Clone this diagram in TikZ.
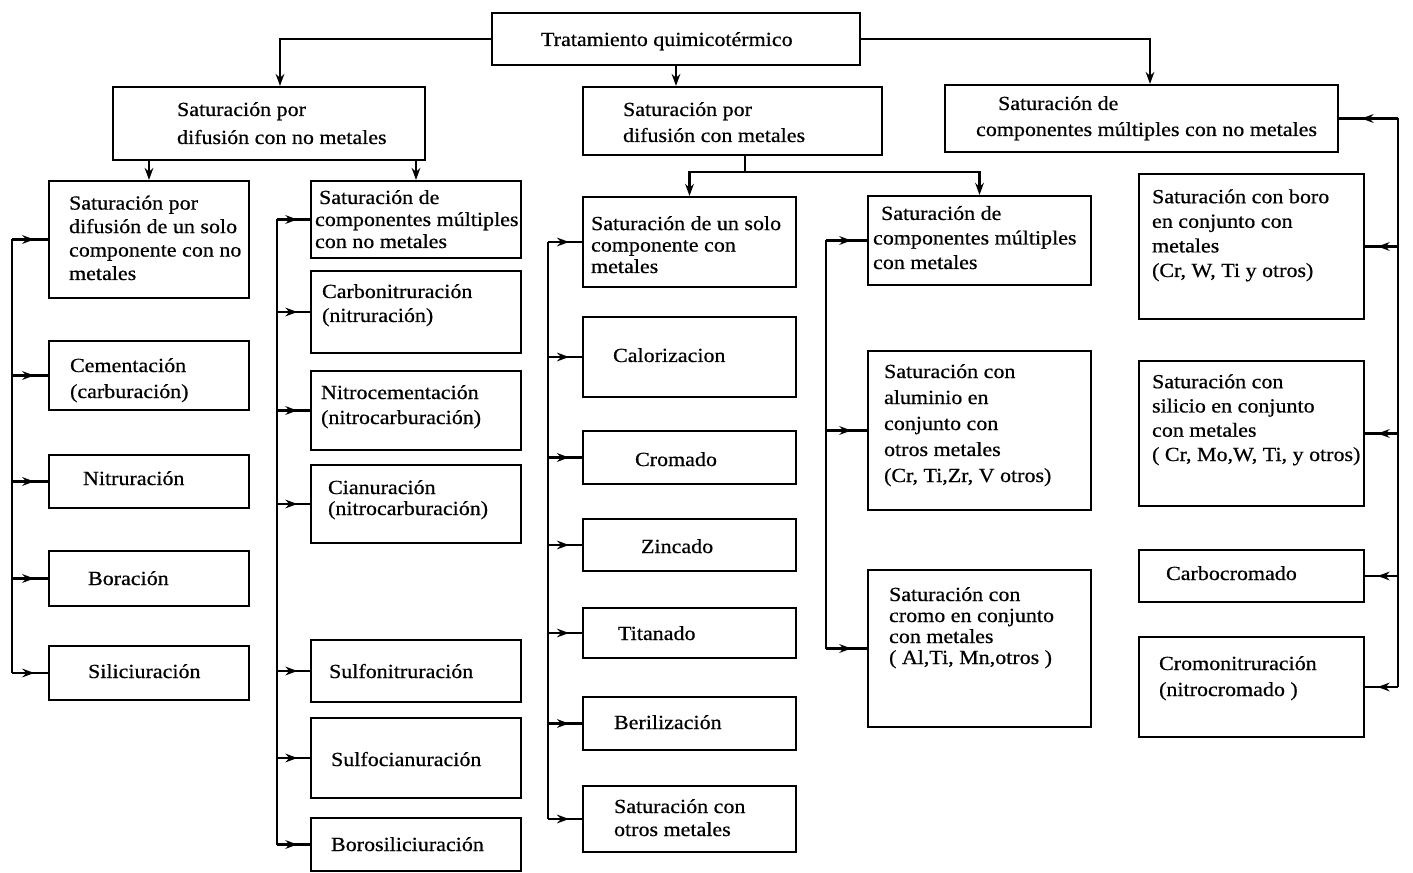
\documentclass[tikz,border=0pt]{standalone}
\usepackage{fontspec}
\setmainfont{Liberation Serif}[FakeStretch=1.1,FakeBold=0.6]
\usetikzlibrary{arrows.meta,fit,decorations.markings}

\tikzset{every picture/.style={line width=1.6pt}}
\tikzset{
  box/.style={draw, inner sep=0pt, fit={#1}},
  txt/.style={anchor=base west, inner sep=0pt, align=left, font=\fontsize{15}{#1}\selectfont},
  txt/.default=17.6,
  feed/.style={-{Stealth[length=9pt,width=6.5pt]}},
  branch/.style={postaction={decorate}, decoration={markings, mark=at position 0.62 with {\arrow{Stealth[length=9pt,width=6.5pt]}}}}
}

\begin{document}
\begin{tikzpicture}[x=0.75pt,y=0.75pt,yscale=-1,xscale=1]
\useasboundingbox[fill=white] (0,0) rectangle (1413,873);

% Main box
\node[box={(492,13) (860,65)}] (t0) {};
\node[txt] (t0t) at (540,46) {Tratamiento quimicotérmico};

% First level (text nodes sit on their last baseline)
\node[box={(113,87) (425,160)}] (s1) {};
\node[txt=21] (s1t) at (176,144) {Saturación por\\difusión con no metales};
\node[box={(583,87) (882,155)}] (s2) {};
\node[txt=19.5] (s2t) at (622,142) {Saturación por\\difusión con metales};
\node[box={(945,85) (1338,152)}] (s3) {};
\node[txt=19.5] (s3t) at (975,136) {\hspace*{16.5pt}Saturación de\\componentes múltiples con no metales};

% Column a
\node[box={(49,181) (249,298)}] (a1) {};
\node[txt=17.6] (a1t) at (68,280) {Saturación por\\difusión de un solo\\componente con no\\metales};
\node[box={(49,341) (249,410)}] (a2) {};
\node[txt=19.5] (a2t) at (69,398) {Cementación\\(carburación)};
\node[box={(49,455) (249,508)}] (a3) {};
\node[txt] (a3t) at (82,485) {Nitruración};
\node[box={(49,551) (249,606)}] (a4) {};
\node[txt] (a4t) at (87,585) {Boración};
\node[box={(49,646) (249,700)}] (a5) {};
\node[txt] (a5t) at (87,678) {Siliciuración};

% Column b
\node[box={(311,181) (521,258)}] (b1) {};
\node[txt=16.5] (b1t) at (314,248) {\hspace*{3pt}Saturación de\\componentes múltiples\\con no metales};
\node[box={(311,271) (521,353)}] (b2) {};
\node[txt=18] (b2t) at (321,322) {Carbonitruración\\(nitruración)};
\node[box={(311,371) (521,450)}] (b3) {};
\node[txt=18.75] (b3t) at (320,424) {Nitrocementación\\(nitrocarburación)};
\node[box={(311,465) (521,543)}] (b4) {};
\node[txt=15.75] (b4t) at (327,515) {Cianuración\\(nitrocarburación)};
\node[box={(311,640) (521,702)}] (b5) {};
\node[txt] (b5t) at (328,678) {Sulfonitruración};
\node[box={(311,718) (521,798)}] (b6) {};
\node[txt] (b6t) at (330,766) {Sulfocianuración};
\node[box={(311,818) (521,871)}] (b7) {};
\node[txt] (b7t) at (330,851) {Borosiliciuración};

% Column c
\node[box={(583,197) (796,287)}] (c1) {};
\node[txt=16.1] (c1t) at (590,273) {Saturación de un solo\\componente con\\metales};
\node[box={(583,317) (796,397)}] (c2) {};
\node[txt] (c2t) at (612,362) {Calorizacion};
\node[box={(583,431) (796,484)}] (c3) {};
\node[txt] (c3t) at (634,466) {Cromado};
\node[box={(583,519) (796,571)}] (c4) {};
\node[txt] (c4t) at (640,553) {Zincado};
\node[box={(583,608) (796,658)}] (c5) {};
\node[txt] (c5t) at (617,640) {Titanado};
\node[box={(583,697) (796,750)}] (c6) {};
\node[txt] (c6t) at (613,729) {Berilización};
\node[box={(583,786) (796,852)}] (c7) {};
\node[txt=17.25] (c7t) at (613,836) {Saturación con\\otros metales};

% Column d
\node[box={(868,196) (1091,285)}] (d1) {};
\node[txt=18.4] (d1t) at (872,269) {\hspace*{6pt}Saturación de\\componentes múltiples\\con metales};
\node[box={(868,351) (1091,510)}] (d2) {};
\node[txt=19.5] (d2t) at (883,482) {Saturación con\\aluminio en\\conjunto con\\otros metales\\(Cr, Ti,Zr, V otros)};
\node[box={(868,570) (1091,727)}] (d3) {};
\node[txt=15.75] (d3t) at (888,664) {Saturación con\\cromo en conjunto\\con metales\\( Al,Ti, Mn,otros )};

% Column e
\node[box={(1139,174) (1364,319)}] (e1) {};
\node[txt=18.45] (e1t) at (1151,277) {Saturación con boro\\en conjunto con\\metales\\(Cr, W, Ti y otros)};
\node[box={(1139,361) (1364,506)}] (e2) {};
\node[txt=18.2] (e2t) at (1151,461) {Saturación con\\silicio en conjunto\\con metales\\( Cr, Mo,W, Ti, y otros)};
\node[box={(1139,550) (1364,602)}] (e3) {};
\node[txt] (e3t) at (1165,580) {Carbocromado};
\node[box={(1139,637) (1364,737)}] (e4) {};
\node[txt=19.5] (e4t) at (1158,696) {Cromonitruración\\(nitrocromado )};

% Bus positions
\coordinate (ka) at (280,0);
\coordinate (kc) at (1150,0);
\coordinate (kb) at (745,172);
\coordinate (ba) at (12,0);
\coordinate (bb) at (277,0);
\coordinate (bc) at (548,0);
\coordinate (bd) at (826,0);
\coordinate (be) at (1398,0);

% Top level connectors
\draw[feed] (t0.west) -| (ka |- s1.north);
\draw[feed] (t0.south) -- (t0.south |- s2.north);
\draw[feed] (t0.east) -| (kc |- s3.north);
\draw[feed] (s1.south -| a1.north) -- (a1.north);
\draw[feed] (s1.south -| b1.north) -- (b1.north);
\draw (s2.south -| kb) -- (kb);
\draw[feed] (kb) -| (c1.north);
\draw[feed] (kb) -| (d1.north);

% Buses
\draw (a1.west -| ba) -- (a5.west -| ba);
\foreach \n in {a1,a2,a3,a4,a5} \draw[branch] (\n.west -| ba) -- (\n.west);
\draw (b1.west -| bb) -- (b7.west -| bb);
\foreach \n in {b1,b2,b3,b4,b5,b6,b7} \draw[branch] (\n.west -| bb) -- (\n.west);
\draw (c1.west -| bc) -- (c7.west -| bc);
\foreach \n in {c1,c2,c3,c4,c5,c6,c7} \draw[branch] (\n.west -| bc) -- (\n.west);
\draw (d1.west -| bd) -- (d3.west -| bd);
\foreach \n in {d1,d2,d3} \draw[branch] (\n.west -| bd) -- (\n.west);
\draw (s3.east -| be) -- (e4.east -| be);
\foreach \n in {s3,e1,e2,e3,e4} \draw[branch] (\n.east -| be) -- (\n.east);

\end{tikzpicture}
\end{document}
